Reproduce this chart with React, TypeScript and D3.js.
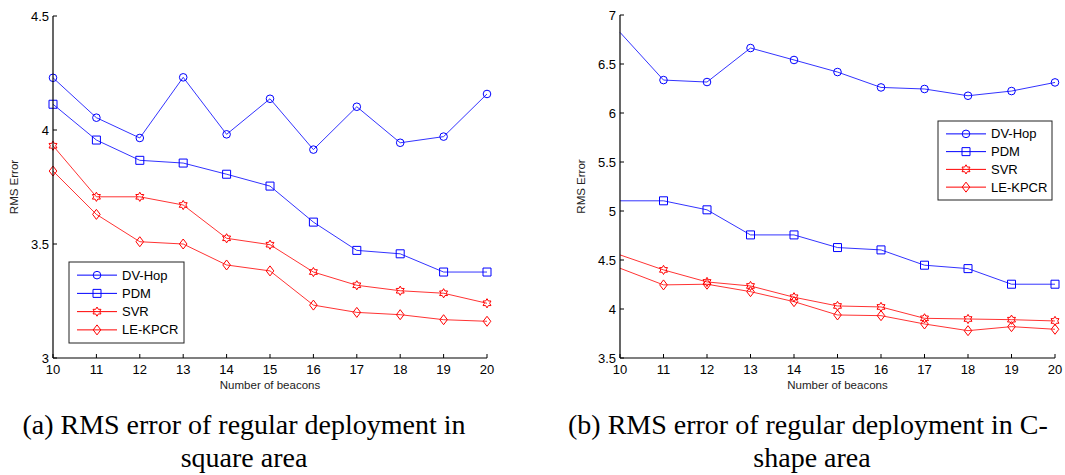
import React from "react";
import * as d3 from "d3";

const beacons = [10, 11, 12, 13, 14, 15, 16, 17, 18, 19, 20];

const seriesNames = ["DV-Hop", "PDM", "SVR", "LE-KPCR"];
const seriesColors = ["#0000ff", "#0000ff", "#ff0000", "#ff0000"];
const seriesMarkers = ["circle", "square", "hexagram", "diamond"];

// (a) square area
const squareDvHop = [4.229, 4.054, 3.965, 4.231, 3.981, 4.137, 3.914, 4.102, 3.944, 3.971, 4.158];
const squarePdm = [4.113, 3.956, 3.867, 3.855, 3.806, 3.754, 3.596, 3.472, 3.457, 3.377, 3.377];
const squareSvr = [3.931, 3.707, 3.707, 3.671, 3.525, 3.497, 3.377, 3.319, 3.295, 3.284, 3.24];
const squareLeKpcr = [3.82, 3.63, 3.51, 3.5, 3.408, 3.382, 3.232, 3.2, 3.19, 3.168, 3.161];
const squareYTicks = [3, 3.5, 4, 4.5];

// (b) C-shape area
const cDvHop = [6.823, 6.336, 6.316, 6.663, 6.541, 6.418, 6.261, 6.245, 6.176, 6.224, 6.312];
const cPdm = [5.104, 5.104, 5.012, 4.756, 4.756, 4.627, 4.603, 4.447, 4.412, 4.253, 4.253];
const cSvr = [4.552, 4.399, 4.276, 4.235, 4.12, 4.031, 4.021, 3.905, 3.898, 3.891, 3.878];
const cLeKpcr = [4.416, 4.246, 4.253, 4.177, 4.075, 3.939, 3.932, 3.847, 3.779, 3.82, 3.793];
const cYTicks = [3.5, 4, 4.5, 5, 5.5, 6, 6.5, 7];

const xTicks = beacons;

function markerPath(kind: string): string {
  if (kind === "square") return "M-4,-4H4V4H-4Z";
  if (kind === "diamond") return "M0,-5L3.8,0L0,5L-3.8,0Z";
  if (kind === "hexagram") {
    const R = 4.6;
    const r = R / Math.sqrt(3);
    const pts: string[] = [];
    for (let i = 0; i < 12; i++) {
      const a = (Math.PI / 6) * i - Math.PI / 2;
      const rad = i % 2 === 0 ? R : r;
      pts.push(`${(rad * Math.cos(a)).toFixed(2)},${(rad * Math.sin(a)).toFixed(2)}`);
    }
    return "M" + pts.join("L") + "Z";
  }
  return "";
}

function Marker({ kind, x, y, color }: { kind: string; x: number; y: number; color: string }) {
  if (kind === "circle") {
    return <circle cx={x} cy={y} r={3.8} fill="none" stroke={color} strokeWidth={1} />;
  }
  return <path d={markerPath(kind)} transform={`translate(${x},${y})`} fill="none" stroke={color} strokeWidth={1} />;
}

type PanelProps = {
  x0: number;
  x1: number;
  yTop: number;
  yBottom: number;
  yDomain: [number, number];
  yTicks: number[];
  series: number[][];
  legend: { x: number; y: number; w: number; h: number };
  markerAtStart: boolean;
  tickFmt: (v: number) => string;
};

function Panel(p: PanelProps) {
  const xs = d3.scaleLinear().domain([10, 20]).range([p.x0, p.x1]);
  const ys = d3.scaleLinear().domain(p.yDomain).range([p.yBottom, p.yTop]);
  const line = d3
    .line<number>()
    .x((_, i) => xs(beacons[i]))
    .y((d) => ys(d));
  const font = "'Liberation Sans', Arial, sans-serif";
  const rowH = (p.legend.h - 8) / 4;
  return (
    <g>
      {p.series.map((vals, si) => (
        <g key={si}>
          <path d={line(vals) || ""} fill="none" stroke={seriesColors[si]} strokeWidth={1} strokeOpacity={0.8} />
          {vals.map((v, i) =>
            !p.markerAtStart && i === 0 ? null : (
              <Marker key={i} kind={seriesMarkers[si]} x={xs(beacons[i])} y={ys(v)} color={seriesColors[si]} />
            )
          )}
        </g>
      ))}
      {/* axes */}
      <line x1={p.x0} x2={p.x0} y1={p.yTop} y2={p.yBottom} stroke="#000" strokeWidth={1.2} />
      <line x1={p.x0} x2={p.x1} y1={p.yBottom} y2={p.yBottom} stroke="#000" strokeWidth={1.2} />
      {p.yTicks.map((t) => (
        <g key={t}>
          <line x1={p.x0} x2={p.x0 + 4} y1={ys(t)} y2={ys(t)} stroke="#000" strokeWidth={1} />
          <text x={p.x0 - 4} y={ys(t)} dy="0.35em" textAnchor="end" fontSize={13} fontFamily={font} fill="#000">
            {p.tickFmt(t)}
          </text>
        </g>
      ))}
      {xTicks.map((t) => (
        <g key={t}>
          <line x1={xs(t)} x2={xs(t)} y1={p.yBottom} y2={p.yBottom - 4} stroke="#000" strokeWidth={1} />
          <text x={xs(t)} y={p.yBottom + 16} textAnchor="middle" fontSize={13} fontFamily={font} fill="#000">
            {t}
          </text>
        </g>
      ))}
      <text
        x={(p.x0 + p.x1) / 2}
        y={p.yBottom + 31}
        textAnchor="middle"
        fontSize={11.5}
        fontFamily={font}
        fill="#222"
      >
        Number of beacons
      </text>
      <text
        transform={`translate(${p.x0 - 35},${(p.yTop + p.yBottom) / 2}) rotate(-90)`}
        textAnchor="middle"
        fontSize={11.5}
        fontFamily={font}
        fill="#222"
      >
        RMS Error
      </text>
      {/* legend */}
      <rect x={p.legend.x} y={p.legend.y} width={p.legend.w} height={p.legend.h} fill="#fff" stroke="#222" strokeWidth={1} />
      {seriesNames.map((name, si) => {
        const cy = p.legend.y + 4 + rowH * (si + 0.5);
        const lx = p.legend.x + 8;
        return (
          <g key={name}>
            <line x1={lx} x2={lx + 40} y1={cy} y2={cy} stroke={seriesColors[si]} strokeWidth={1} />
            <Marker kind={seriesMarkers[si]} x={lx + 20} y={cy} color={seriesColors[si]} />
            <text x={lx + 45} y={cy} dy="0.35em" fontSize={13} fontFamily={font} fill="#000">
              {name}
            </text>
          </g>
        );
      })}
    </g>
  );
}

export default function App() {
  const serif = "'Liberation Serif', 'Times New Roman', serif";
  return (
    <svg
      width={1065}
      height={475}
      style={{ position: "absolute", left: 0, top: 0, background: "#fff" }}
    >
      <rect x={0} y={0} width={1065} height={475} fill="#fff" />
      <Panel
        x0={53}
        x1={487}
        yTop={16}
        yBottom={358}
        yDomain={[3, 4.5]}
        yTicks={squareYTicks}
        series={[squareDvHop, squarePdm, squareSvr, squareLeKpcr]}
        legend={{ x: 69, y: 262, w: 115, h: 81 }}
        markerAtStart={true}
        tickFmt={(v) => (Number.isInteger(v) ? String(v) : v.toFixed(1))}
      />
      <Panel
        x0={620}
        x1={1055}
        yTop={15}
        yBottom={358}
        yDomain={[3.5, 7]}
        yTicks={cYTicks}
        series={[cDvHop, cPdm, cSvr, cLeKpcr]}
        legend={{ x: 938, y: 121, w: 114, h: 79 }}
        markerAtStart={false}
        tickFmt={(v) => (Number.isInteger(v) ? String(v) : v.toFixed(1))}
      />
      <text x={244} y={434} textAnchor="middle" fontSize={28} fontFamily={serif} fill="#000">
        (a) RMS error of regular deployment in
      </text>
      <text x={244} y={467} textAnchor="middle" fontSize={28} fontFamily={serif} fill="#000">
        square area
      </text>
      <text x={568} y={434} textAnchor="start" fontSize={28} fontFamily={serif} fill="#000">
        (b) RMS error of regular deployment in C-
      </text>
      <text x={812} y={467} textAnchor="middle" fontSize={28} fontFamily={serif} fill="#000">
        shape area
      </text>
    </svg>
  );
}
